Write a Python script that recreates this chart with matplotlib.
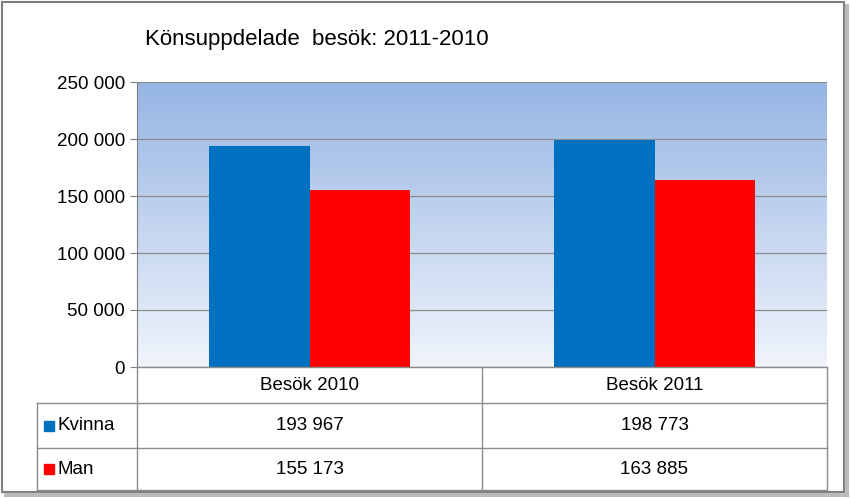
import numpy as np
import matplotlib
matplotlib.use("Agg")
import matplotlib.pyplot as plt
from matplotlib.ticker import FuncFormatter

categories = ["Besök 2010", "Besök 2011"]
series = ["Kvinna", "Man"]
kvinna = [193967, 198773]
man = [155173, 163885]
colors = ["#0070C0", "#FF0000"]

def sv(v):
    return f"{int(v):,}".replace(",", " ")

W, H = 850, 498
fig = plt.figure(figsize=(8.5, 4.98), dpi=100)
plt.rcParams['font.family'] = ['Liberation Sans', 'DejaVu Sans']

# overlay in pixel coords
ov = fig.add_axes([0, 0, 1, 1], zorder=3)
ov.set_xlim(0, W); ov.set_ylim(H, 0); ov.axis("off")
ov.add_patch(plt.Rectangle((2, 2), W - 8, H - 8, fill=False, ec="#7f7f7f", lw=1.5))
ov.plot([6, W - 3], [H - 3, H - 3], color="#bbbbbb", lw=3)
ov.plot([W - 3, W - 3], [6, H - 3], color="#bbbbbb", lw=3)

L, R, T, B = 137, 827, 82, 367
ax = fig.add_axes([L / W, 1 - B / H, (R - L) / W, (B - T) / H], zorder=2)
grad = np.linspace(0, 1, 256).reshape(-1, 1)
top = np.array([150, 181, 228]) / 255
bot = np.array([240, 244, 251]) / 255
img = top + (bot - top) * grad[..., None].reshape(-1, 1, 1)
ax.imshow(img, extent=[-0.5, 1.5, 0, 250000], aspect="auto", zorder=0)

x = np.arange(len(categories))
w = 0.29
ax.bar(x - w / 2, kvinna, w, color=colors[0], zorder=3)
ax.bar(x + w / 2, man, w, color=colors[1], zorder=3)
ax.set_xlim(-0.5, 1.5)
ax.set_ylim(0, 250000)
ax.set_yticks(np.arange(0, 250001, 50000))
ax.yaxis.set_major_formatter(FuncFormatter(lambda v, p: sv(v)))
ax.tick_params(axis="y", labelsize=13.5, length=5, color="#7f7f7f")
ax.set_xticks([])
ax.grid(axis="y", color="#8c8c8c", lw=0.9, zorder=1)
for s in ["top", "right", "bottom"]:
    ax.spines[s].set_visible(False)
ax.spines["left"].set_color("#7f7f7f")

fig.text(145 / W, 1 - 40 / H, "Könsuppdelade  besök: 2011-2010", fontsize=16, va="center", ha="left")

# data table
lc = "#8c8c8c"
mid = (L + R) / 2
rows = [367, 403, 448, 490]
ov.plot([L, R], [rows[0], rows[0]], color=lc, lw=1)
for y in rows[1:]:
    ov.plot([37, R], [y, y], color=lc, lw=1)
for xv in [L, mid, R]:
    ov.plot([xv, xv], [rows[0], rows[-1]], color=lc, lw=1)
ov.plot([37, 37], [rows[1], rows[-1]], color=lc, lw=1)
centers = [(L + mid) / 2, (mid + R) / 2]
for c, cat in zip(centers, categories):
    ov.text(c, (rows[0] + rows[1]) / 2, cat, ha="center", va="center", fontsize=13.5)
for i, (name, vals) in enumerate(zip(series, [kvinna, man])):
    yc = (rows[i + 1] + rows[i + 2]) / 2
    ov.add_patch(plt.Rectangle((44, yc - 5), 10, 10, color=colors[i]))
    ov.text(58, yc, name, ha="left", va="center", fontsize=13.5)
    for c, v in zip(centers, vals):
        ov.text(c, yc, sv(v), ha="center", va="center", fontsize=13.5)

fig.savefig("out.png", dpi=100)
